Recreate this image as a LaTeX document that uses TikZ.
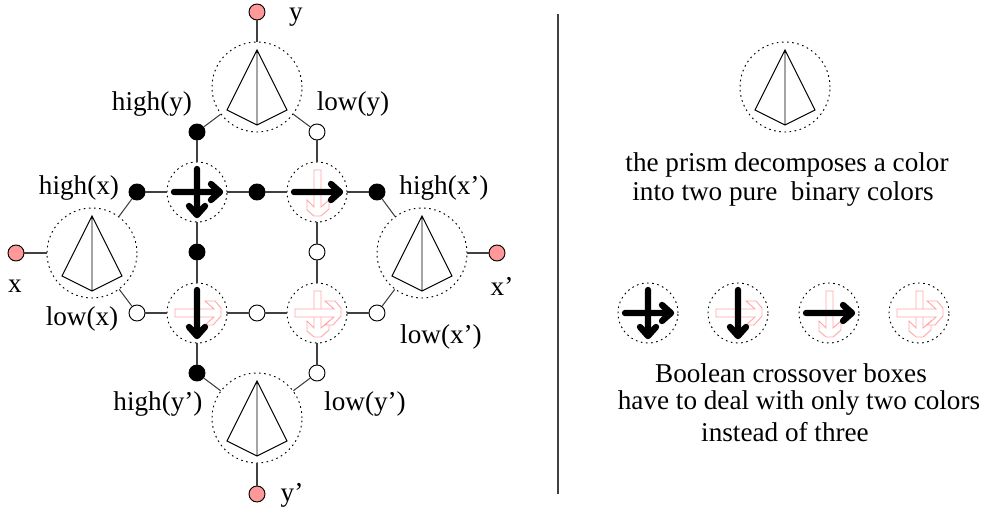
\documentclass[tikz,border=0pt]{standalone}
\usepackage{fontspec}
\setmainfont{Liberation Serif}
\usepackage{xcolor}
\usepackage{tikz}
\usetikzlibrary{positioning}
\definecolor{signal}{RGB}{255,153,153}
\definecolor{faded}{RGB}{255,165,165}

\begin{document}
\begin{tikzpicture}[
  x=0.03cm,y=-0.03cm,
  font=\fontsize{23.2}{27}\selectfont,
  line width=0.8pt,
  prismbox/.style={circle,draw,dash pattern=on 1.4pt off 3pt,minimum size=2.7cm,inner sep=0pt},
  crossbox/.style={circle,draw,dash pattern=on 1.4pt off 3pt,minimum size=1.8cm,inner sep=0pt},
  port/.style={circle,draw,fill=signal,minimum size=0.48cm,inner sep=0pt},
  high/.style={circle,draw,fill=black,minimum size=0.48cm,inner sep=0pt},
  low/.style={circle,draw,fill=white,minimum size=0.48cm,inner sep=0pt},
  wire/.style={black!75,line width=0.9pt},
  solidarr/.style={line width=1.9mm,line cap=round,line join=round},
  ghostarr/.style={draw=faded,fill=white,line width=0.75pt},
  lbl/.style={inner sep=0pt},
  prism/.pic={
    \draw[line width=0.8pt] (0,-37) -- (-30,23) -- (0,38) -- (30,23) -- cycle (0,-37) -- (0,38);
  },
  hsolid/.pic={
    \draw[solidarr] (-23,0) -- (23,0) (14,-8) -- (23,0) -- (14,8);
  },
  vsolid/.pic={
    \draw[solidarr] (0,-23) -- (0,23) (-8,14) -- (0,23) -- (8,14);
  },
  hghost/.pic={
    \draw[ghostarr] (-22,-4) -- (17,-4) -- (8,-12) -- (18,-12) -- (24,-5) -- (24,3) -- (16,12) -- (8,12) -- (17,4) -- (-22,4) -- cycle;
  },
  vghost/.pic={
    \draw[ghostarr] (-3,-22) -- (4,-22) -- (4,15) -- (12,8) -- (12,17) -- (4,24) -- (-3,24) -- (-10,18) -- (-10,8) -- (-3,15) -- cycle;
  },
]
\useasboundingbox (0,0) rectangle (981,510);

% prisms of the network
\node[prismbox] (ptop) at (257,87) {};
\node[prismbox] (pleft) at (92,253) {};
\node[prismbox] (pright) at (422,253) {};
\node[prismbox] (pbot) at (257,418) {};
\pic at (ptop) {prism};
\pic at (pleft) {prism};
\pic at (pright) {prism};
\pic at (pbot) {prism};

% crossover boxes
\node[crossbox] (chh) at (197,192) {};
\node[crossbox] (clh) at (317,192) {};
\node[crossbox] (chl) at (197,313) {};
\node[crossbox] (cll) at (317,313) {};
\pic at (chh) {vsolid};
\pic at (chh) {hsolid};
\pic at (clh) {vghost};
\pic at (clh) {hsolid};
\pic at (chl) {hghost};
\pic at (chl) {vsolid};
\pic at (cll) {vghost};
\pic at (cll) {hghost};

% outer ports
\node[port] (iny) at (257,12) {};
\node[port] (inx) at (16,253) {};
\node[port] (outx) at (497,253) {};
\node[port] (outy) at (257,494) {};

% binary colors
\node[high] (hy) at (197,132) {};
\node[low] (ly) at (317,132) {};
\node[high] (hx) at (137,192) {};
\node[high] (hm) at (257,192) {};
\node[high] (hxp) at (377,192) {};
\node[high] (hc) at (197,252) {};
\node[low] (lc) at (317,252) {};
\node[low] (lx) at (137,313) {};
\node[low] (lm) at (257,313) {};
\node[low] (lxp) at (377,313) {};
\node[high] (hyp) at (197,373) {};
\node[low] (lyp) at (317,373) {};

% edges
\draw[wire] (iny) -- (ptop);
\draw[wire] (inx) -- (pleft);
\draw[wire] (outx) -- (pright);
\draw[wire] (outy) -- (pbot);

\draw[wire] (ptop) -- (hy);
\draw[wire] (ptop) -- (ly);
\draw[wire] (pleft) -- (hx);
\draw[wire] (pleft) -- (lx);
\draw[wire] (pright) -- (hxp);
\draw[wire] (pright) -- (lxp);
\draw[wire] (pbot) -- (hyp);
\draw[wire] (pbot) -- (lyp);

\draw[wire] (hy) -- (chh);
\draw[wire] (hx) -- (chh);
\draw[wire] (chh) -- (hm);
\draw[wire] (chh) -- (hc);
\draw[wire] (ly) -- (clh);
\draw[wire] (hm) -- (clh);
\draw[wire] (clh) -- (hxp);
\draw[wire] (clh) -- (lc);
\draw[wire] (hc) -- (chl);
\draw[wire] (lx) -- (chl);
\draw[wire] (chl) -- (lm);
\draw[wire] (chl) -- (hyp);
\draw[wire] (lc) -- (cll);
\draw[wire] (lm) -- (cll);
\draw[wire] (cll) -- (lxp);
\draw[wire] (cll) -- (lyp);

% labels
\node[lbl] (ty) at (296,17) {y};
\node[lbl] (tx) at (15,286) {x};
\node[lbl] (txp) at (502,286) {x’};
\node[lbl] (typ) at (292,495) {y’};
\node[lbl] (thy) at (152,104) {high(y)};
\node[lbl] (tly) at (353,104) {low(y)};
\node[lbl] (thx) at (79,188) {high(x)};
\node[lbl] (thxp) at (444,188) {high(x’)};
\node[lbl] (tlx) at (82,319) {low(x)};
\node[lbl] (tlxp) at (441,337) {low(x’)};
\node[lbl] (thyp) at (158,404) {high(y’)};
\node[lbl] (tlyp) at (365,404) {low(y’)};

% divider
\coordinate (divtop) at (558,14);
\coordinate (divbot) at (558,494);
\draw[wire] (divtop) -- (divbot);

% legend
\node[prismbox] (lprism) at (785,87) {};
\pic at (lprism) {prism};
\node[lbl] (tprism) at (787,165) {the prism decomposes a color};
\node[lbl] (tpure) at (783,194) {into two pure\ \ binary colors};

\node[crossbox] (la) at (648,313) {};
\node[crossbox] (lb) at (738,313) {};
\node[crossbox] (lcc) at (829,313) {};
\node[crossbox] (ld) at (919,313) {};
\pic at (la) {vsolid};
\pic at (la) {hsolid};
\pic at (lb) {hghost};
\pic at (lb) {vsolid};
\pic at (lcc) {vghost};
\pic at (lcc) {hsolid};
\pic at (ld) {vghost};
\pic at (ld) {hghost};

\node[lbl] (tbool) at (791,373) {Boolean crossover boxes};
\node[lbl] (thave) at (799,403) {have to deal with only two colors};
\node[lbl] (tinst) at (785,432) {instead of three};

\end{tikzpicture}
\end{document}
